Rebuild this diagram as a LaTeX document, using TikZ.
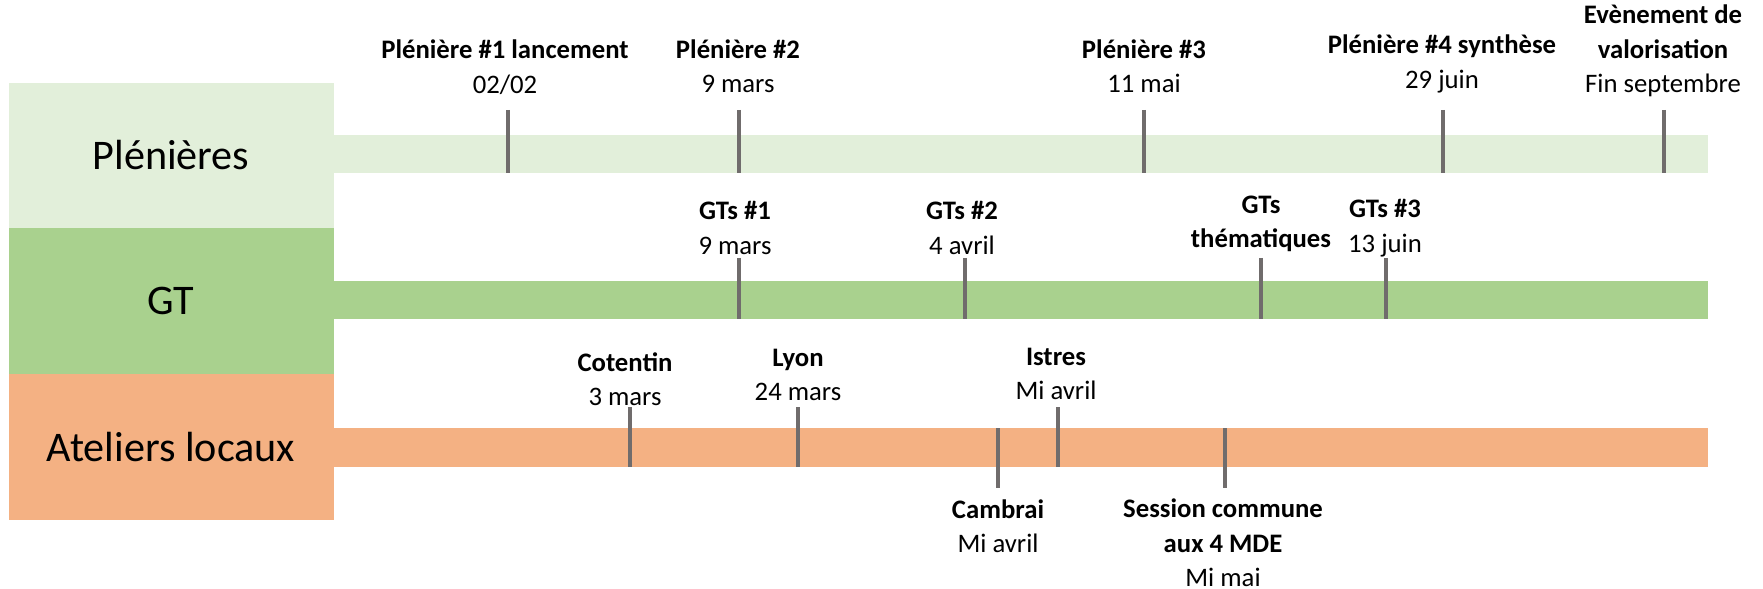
\documentclass[tikz,border=0pt]{standalone}
\usepackage{fontspec}
\setmainfont{Carlito}
\definecolor{plenbg}{HTML}{E2EFDA}
\definecolor{gtbg}{HTML}{A9D18E}
\definecolor{atelbg}{HTML}{F4B183}
\definecolor{tickgray}{HTML}{706C6C}
\begin{document}
\begin{tikzpicture}[x=0.1mm,y=-0.1mm]
    \tikzstyle{rowlabel}=[inner sep=0pt,font=\fontsize{12}{14}\selectfont]
    \tikzstyle{event}=[align=center,inner sep=0pt,font=\fontsize{7.6}{9.8}\selectfont]
    \tikzstyle{tick}=[draw=tickgray,line width=1.35pt]
    \useasboundingbox (0,0) rectangle (1763,589);
    % rows
    \fill[plenbg] (9,83) rectangle (334,228);
    \fill[plenbg] (334,135) rectangle (1708,173);
    \fill[gtbg] (9,228) rectangle (334,374);
    \fill[gtbg] (334,281) rectangle (1708,319);
    \fill[atelbg] (9,374) rectangle (334,520);
    \fill[atelbg] (334,428) rectangle (1708,467);
    \node (plen)[rowlabel] at (171,155) {Plénières};
    \node (gt)[rowlabel] at (171,301) {GT};
    \node (atel)[rowlabel] at (171,447) {Ateliers locaux};
    % plenieres
    \coordinate (p1t) at (508,110); \coordinate (p1b) at (508,173);
    \coordinate (p2t) at (739,110); \coordinate (p2b) at (739,173);
    \coordinate (p3t) at (1144,110); \coordinate (p3b) at (1144,173);
    \coordinate (p4t) at (1443,110); \coordinate (p4b) at (1443,173);
    \coordinate (evt) at (1664,110); \coordinate (evb) at (1664,173);
    \draw[tick] (p1t) -- (p1b);
    \draw[tick] (p2t) -- (p2b);
    \draw[tick] (p3t) -- (p3b);
    \draw[tick] (p4t) -- (p4b);
    \draw[tick] (evt) -- (evb);
    \node (p1)[event] at (505,67) {\textbf{Plénière \#1 lancement}\\02/02};
    \node (p2)[event] at (738,66) {\textbf{Plénière \#2}\\9 mars};
    \node (p3)[event] at (1144,66) {\textbf{Plénière \#3}\\11 mai};
    \node (p4)[event] at (1442,64) {\textbf{Plénière \#4 synthèse}\\29 juin};
    \node (ev)[event] at (1663,51) {\textbf{Evènement de}\\\textbf{valorisation}\\Fin septembre};
    % GT
    \coordinate (g1t) at (739,258); \coordinate (g1b) at (739,319);
    \coordinate (g2t) at (965,258); \coordinate (g2b) at (965,319);
    \coordinate (g3t) at (1261,258); \coordinate (g3b) at (1261,319);
    \coordinate (g4t) at (1386,258); \coordinate (g4b) at (1386,319);
    \draw[tick] (g1t) -- (g1b);
    \draw[tick] (g2t) -- (g2b);
    \draw[tick] (g3t) -- (g3b);
    \draw[tick] (g4t) -- (g4b);
    \node (g1)[event] at (735,228) {\textbf{GTs \#1}\\9 mars};
    \node (g2)[event] at (962,228) {\textbf{GTs \#2}\\4 avril};
    \node (g3)[event] at (1261,224) {\textbf{GTs}\\\textbf{thématiques}};
    \node (g4)[event] at (1385,228) {\textbf{GTs \#3}\\13 juin};
    % ateliers
    \coordinate (a1t) at (630,407); \coordinate (a1b) at (630,467);
    \coordinate (a2t) at (798,407); \coordinate (a2b) at (798,467);
    \coordinate (a3t) at (1058,407); \coordinate (a3b) at (1058,467);
    \coordinate (a4t) at (998,428); \coordinate (a4b) at (998,488);
    \coordinate (a5t) at (1225,428); \coordinate (a5b) at (1225,488);
    \draw[tick] (a1t) -- (a1b);
    \draw[tick] (a2t) -- (a2b);
    \draw[tick] (a3t) -- (a3b);
    \draw[tick] (a4t) -- (a4b);
    \draw[tick] (a5t) -- (a5b);
    \node (a1)[event] at (625,379) {\textbf{Cotentin}\\3 mars};
    \node (a2)[event] at (798,375) {\textbf{Lyon}\\24 mars};
    \node (a3)[event] at (1056,374) {\textbf{Istres}\\Mi avril};
    \node (a4)[event] at (998,526) {\textbf{Cambrai}\\Mi avril};
    \node (a5)[event] at (1223,543) {\textbf{Session commune}\\\textbf{aux 4 MDE}\\Mi mai};
\end{tikzpicture}
\end{document}
